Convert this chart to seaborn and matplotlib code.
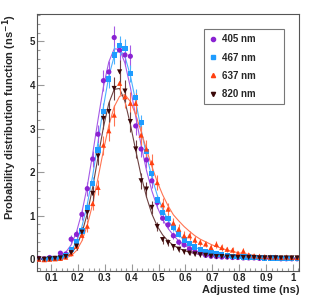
import matplotlib
matplotlib.use("Agg")
import matplotlib.pyplot as plt
from matplotlib.lines import Line2D
from matplotlib.ticker import MultipleLocator
import numpy as np
import pandas as pd
import seaborn as sns

# Bin centres (ns)
time_ns = np.round(np.arange(0.055, 1.02, 0.02), 3)

pdf_405 = [0.02, 0.01, 0.04, 0.02, 0.14, 0.12, 0.46, 0.57, 1.03, 1.62,
           2.30, 2.87, 4.10, 4.30, 5.09, 4.80, 4.69, 4.66, 3.06, 2.53,
           2.28, 1.80, 1.30, 0.94, 0.79, 0.54, 0.39, 0.33, 0.24, 0.17,
           0.14, 0.09, 0.07, 0.06, 0.05, 0.05, 0.04, 0.04, 0.03, 0.03,
           0.03, 0.02, 0.02, 0.02, 0.02, 0.01, 0.01, 0.01, 0.01]
pdf_467 = [0.00, 0.00, 0.01, 0.02, 0.04, 0.09, 0.22, 0.40, 0.65, 1.18,
           1.73, 2.51, 3.39, 4.14, 4.69, 4.91, 4.83, 4.26, 3.71, 3.13,
           2.48, 1.97, 1.36, 1.07, 0.94, 0.73, 0.58, 0.44, 0.37, 0.28,
           0.23, 0.17, 0.15, 0.12, 0.10, 0.08, 0.07, 0.06, 0.05, 0.05,
           0.04, 0.04, 0.03, 0.03, 0.03, 0.02, 0.02, 0.02, 0.02]
pdf_637 = [0.00, -0.01, 0.00, 0.01, 0.02, 0.05, 0.13, 0.30, 0.55, 0.76,
           1.28, 1.65, 2.62, 2.95, 3.31, 4.04, 3.73, 3.58, 3.58, 2.85,
           2.53, 2.22, 1.76, 1.25, 1.15, 0.83, 0.69, 0.54, 0.54, 0.44,
           0.39, 0.35, 0.27, 0.34, 0.27, 0.23, 0.21, 0.14, 0.19, 0.10,
           0.08, 0.07, 0.06, 0.05, 0.05, 0.04, 0.05, 0.04, 0.04]
pdf_820 = [0.01, 0.00, 0.01, 0.02, 0.03, 0.06, 0.15, 0.30, 0.62, 1.07,
           1.51, 2.37, 3.23, 3.39, 3.92, 4.30, 3.86, 3.16, 2.53, 1.80,
           1.61, 1.19, 0.75, 0.45, 0.38, 0.29, 0.23, 0.17, 0.14, 0.12,
           0.10, 0.09, 0.07, 0.06, 0.06, 0.05, 0.05, 0.04, 0.04, 0.04,
           0.04, 0.03, 0.03, 0.03, 0.03, 0.03, 0.03, 0.03, 0.03]

# Error bar half-heights
err_405 = [0.02, 0.02, 0.03, 0.03, 0.05, 0.05, 0.09, 0.10, 0.13, 0.16,
           0.19, 0.21, 0.24, 0.25, 0.27, 0.26, 0.26, 0.26, 0.21, 0.19,
           0.18, 0.16, 0.13, 0.11, 0.10, 0.08, 0.07, 0.06, 0.05, 0.05,
           0.04, 0.03, 0.03, 0.03, 0.03, 0.03, 0.02, 0.02, 0.02, 0.02,
           0.02, 0.02, 0.02, 0.02, 0.02, 0.01, 0.01, 0.01, 0.01]
err_467 = [0.01, 0.01, 0.01, 0.02, 0.03, 0.04, 0.06, 0.08, 0.10, 0.13,
           0.15, 0.17, 0.19, 0.20, 0.21, 0.22, 0.22, 0.20, 0.19, 0.17,
           0.15, 0.14, 0.11, 0.10, 0.09, 0.08, 0.07, 0.06, 0.06, 0.05,
           0.05, 0.04, 0.04, 0.03, 0.03, 0.03, 0.03, 0.02, 0.02, 0.02,
           0.02, 0.02, 0.02, 0.02, 0.02, 0.01, 0.01, 0.01, 0.01]
err_637 = [0.01, 0.01, 0.01, 0.02, 0.03, 0.04, 0.06, 0.08, 0.11, 0.13,
           0.16, 0.18, 0.22, 0.23, 0.24, 0.26, 0.25, 0.25, 0.24, 0.22,
           0.21, 0.19, 0.17, 0.15, 0.14, 0.12, 0.11, 0.10, 0.10, 0.09,
           0.08, 0.08, 0.07, 0.08, 0.07, 0.06, 0.06, 0.05, 0.06, 0.04,
           0.04, 0.04, 0.03, 0.03, 0.03, 0.03, 0.03, 0.03, 0.03]
err_820 = [0.01, 0.01, 0.01, 0.02, 0.03, 0.04, 0.06, 0.08, 0.11, 0.14,
           0.17, 0.20, 0.23, 0.24, 0.26, 0.27, 0.25, 0.23, 0.21, 0.18,
           0.17, 0.14, 0.11, 0.09, 0.08, 0.07, 0.06, 0.05, 0.05, 0.04,
           0.04, 0.04, 0.03, 0.03, 0.03, 0.03, 0.03, 0.02, 0.02, 0.02,
           0.02, 0.02, 0.02, 0.02, 0.02, 0.02, 0.02, 0.02, 0.02]

# Fitted curves at the same bin centres
fit_405 = [0.00, 0.00, 0.01, 0.03, 0.07, 0.16, 0.33, 0.63, 1.08, 1.68,
           2.42, 3.21, 3.96, 4.53, 4.83, 4.82, 4.50, 3.95, 3.28, 2.62,
           2.04, 1.57, 1.20, 0.92, 0.71, 0.55, 0.42, 0.33, 0.26, 0.20,
           0.16, 0.12, 0.10, 0.08, 0.06, 0.05, 0.04, 0.03, 0.03, 0.02,
           0.02, 0.02, 0.01, 0.01, 0.01, 0.01, 0.01, 0.01, 0.01]
fit_467 = [0.00, 0.00, 0.00, 0.01, 0.03, 0.08, 0.19, 0.40, 0.75, 1.26,
           1.92, 2.70, 3.50, 4.20, 4.66, 4.82, 4.65, 4.22, 3.62, 2.98,
           2.39, 1.88, 1.47, 1.15, 0.90, 0.71, 0.56, 0.44, 0.35, 0.28,
           0.22, 0.18, 0.14, 0.11, 0.09, 0.07, 0.06, 0.05, 0.04, 0.03,
           0.03, 0.02, 0.02, 0.02, 0.02, 0.01, 0.01, 0.01, 0.01]
fit_637 = [0.00, 0.00, 0.00, 0.00, 0.01, 0.03, 0.08, 0.20, 0.42, 0.78,
           1.27, 1.87, 2.50, 3.07, 3.50, 3.74, 3.78, 3.62, 3.32, 2.93,
           2.52, 2.13, 1.78, 1.48, 1.23, 1.02, 0.88, 0.75, 0.64, 0.54,
           0.46, 0.40, 0.34, 0.29, 0.25, 0.21, 0.18, 0.15, 0.13, 0.11,
           0.09, 0.08, 0.07, 0.06, 0.05, 0.04, 0.04, 0.03, 0.03]
fit_820 = [0.00, 0.00, 0.00, 0.00, 0.02, 0.05, 0.13, 0.30, 0.60, 1.05,
           1.65, 2.35, 3.03, 3.58, 3.90, 3.92, 3.62, 3.10, 2.50, 1.92,
           1.43, 1.04, 0.76, 0.56, 0.42, 0.32, 0.25, 0.20, 0.16, 0.13,
           0.11, 0.09, 0.08, 0.07, 0.06, 0.05, 0.05, 0.04, 0.04, 0.03,
           0.03, 0.03, 0.03, 0.02, 0.02, 0.02, 0.02, 0.02, 0.02]

labels = ["405 nm", "467 nm", "637 nm", "820 nm"]
x_ticks = [0.1, 0.2, 0.3, 0.4, 0.5, 0.6, 0.7, 0.8, 0.9, 1.0]
x_tick_labels = ["0.1", "0.2", "0.3", "0.4", "0.5", "0.6", "0.7", "0.8", "0.9", "1"]
y_ticks = [0, 1, 2, 3, 4, 5]

# Styling
marker_colors = {"405 nm": "#8a22d2", "467 nm": "#1e9cff", "637 nm": "#ff4010", "820 nm": "#3a0808"}
line_colors = {"405 nm": "#a55ae6", "467 nm": "#4ab2ff", "637 nm": "#ff7452", "820 nm": "#6e4242"}
markers = {"405 nm": "o", "467 nm": "s", "637 nm": "^", "820 nm": "v"}

values = [pdf_405, pdf_467, pdf_637, pdf_820]
errors = [err_405, err_467, err_637, err_820]
fits = [fit_405, fit_467, fit_637, fit_820]

points = pd.concat([pd.DataFrame({"time": time_ns, "pdf": v, "err": e, "fit": f, "laser": lab})
                    for v, e, f, lab in zip(values, errors, fits, labels)], ignore_index=True)

sns.set_style("ticks")
plt.rcParams["font.family"] = ["Liberation Sans", "DejaVu Sans"]
plt.rcParams["font.weight"] = "bold"

fig = plt.figure(figsize=(3.15, 3.02), dpi=100)
ax = fig.add_axes([37 / 315, 31 / 302, 262 / 315, 257 / 302])

sns.lineplot(data=points, x="time", y="fit", hue="laser", palette=line_colors,
             linewidth=0.8, legend=False, ax=ax, zorder=2)

for lab in labels:
    sub = points[points["laser"] == lab]
    ax.errorbar(sub["time"], sub["pdf"], yerr=sub["err"], fmt="none",
                ecolor=line_colors[lab], elinewidth=0.8, capsize=0, zorder=3)

sns.scatterplot(data=points, x="time", y="pdf", hue="laser", style="laser",
                palette=marker_colors, markers=markers, s=14, linewidth=0,
                legend=False, ax=ax, zorder=4)

ax.set_xlim(0.048, 1.022)
ax.set_ylim(-0.27, 5.63)
ax.set_xticks(x_ticks)
ax.set_xticklabels(x_tick_labels)
ax.set_yticks(y_ticks)
ax.xaxis.set_minor_locator(MultipleLocator(0.02))
ax.yaxis.set_minor_locator(MultipleLocator(0.2))
ax.tick_params(which="both", direction="in", top=False, right=False,
               color="#999999", width=0.8, labelsize=7)
ax.tick_params(which="major", length=5)
ax.tick_params(which="minor", length=2.5)
ax.tick_params(axis="x", pad=1.5)
ax.tick_params(axis="y", pad=1.5)
for sp in ax.spines.values():
    sp.set_color("#555555")
    sp.set_linewidth(0.8)

ax.set_xlabel("Adjusted time (ns)", fontsize=8, fontweight="bold", loc="right")
ax.xaxis.set_label_coords(1.0, -0.072)
ax.xaxis.label.set_va("center")
ax.set_ylabel(r"Probability distribution function (ns$^{\mathbf{-1}}$)",
              fontsize=8, fontweight="bold", loc="top")
ax.yaxis.set_label_coords(-0.103, 1.0)
ax.yaxis.label.set_va("center")

handles = [Line2D([], [], linestyle="none", marker=markers[lab], color=marker_colors[lab],
                  markersize=3) for lab in labels]
leg = ax.legend(handles, labels, loc="upper left",
                bbox_to_anchor=(0.637, 0.642, 0.306, 0.298), mode="expand",
                fontsize=7, frameon=True, fancybox=False, borderpad=0.5,
                labelspacing=0.85, handlelength=0.8, handletextpad=0.6,
                borderaxespad=0)
leg.get_frame().set_edgecolor("#555555")
leg.get_frame().set_linewidth(0.8)
for t in leg.get_texts():
    t.set_fontweight("bold")

fig.savefig("out.png", dpi=100)
